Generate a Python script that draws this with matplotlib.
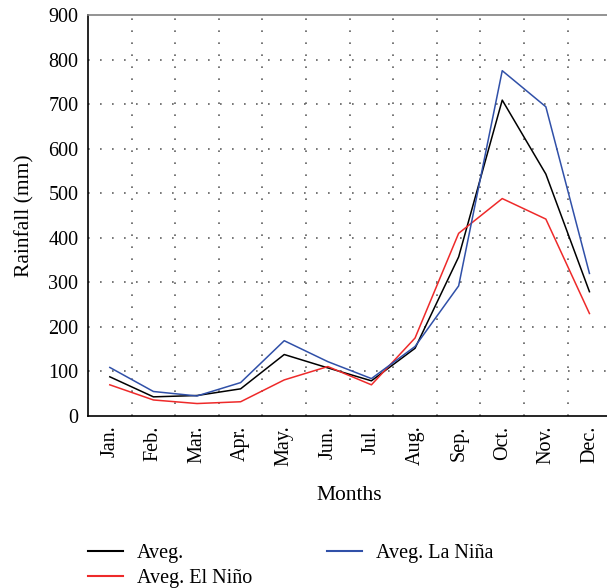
import matplotlib
matplotlib.use("Agg")
import matplotlib.pyplot as plt

plt.rcParams["font.family"] = ["Liberation Serif", "DejaVu Serif"]

months = ["Jan.", "Feb.", "Mar.", "Apr.", "May.", "Jun.", "Jul.",
          "Aug.", "Sep.", "Oct.", "Nov.", "Dec."]
aveg = [88, 43, 46, 61, 138, 108, 79, 152, 357, 709, 543, 279]
el_nino = [70, 36, 28, 32, 81, 111, 70, 175, 410, 488, 442, 230]
la_nina = [109, 55, 45, 75, 169, 122, 84, 156, 292, 775, 694, 320]


def main():
    fig = plt.figure(figsize=(6.07, 5.88), dpi=100)
    ax = fig.add_axes([0.145, 0.2925, 0.862, 0.682])

    x = list(range(len(months)))
    ax.plot(x, aveg, color="black", lw=1.1, label="Aveg.")
    ax.plot(x, el_nino, color="#ee2a2a", lw=1.1, label="Aveg. El Niño")
    ax.plot(x, la_nina, color="#3050a8", lw=1.1, label="Aveg. La Niña")

    ax.set_xlim(-0.5, 11.5)
    ax.set_ylim(0, 900)
    ax.set_xticks(x)
    ax.set_xticklabels(months, rotation=90, fontsize=14.5)
    ax.set_yticks(range(0, 1000, 100))
    ax.tick_params(axis="y", labelsize=14.5)
    ax.tick_params(length=0, pad=7)

    # dotted grid: horizontal at values, vertical between months
    for v in range(100, 900, 100):
        ax.axhline(v, color="#606060", lw=1.2, ls=(0, (1, 6.2)), zorder=0)
    for v in [i + 0.5 for i in range(11)]:
        ax.axvline(v, color="#606060", lw=1.2, ls=(0, (1, 6.2)), zorder=0)

    for side in ["left", "bottom"]:
        ax.spines[side].set_color("black")
        ax.spines[side].set_linewidth(1.2)
    ax.spines["top"].set_color("#808080")
    ax.spines["top"].set_linewidth(1.2)
    ax.spines["right"].set_visible(False)

    ax.set_ylabel("Rainfall (mm)", fontsize=15.5, labelpad=10)
    ax.set_xlabel("Months", fontsize=15.5, labelpad=14)

    leg = fig.legend(
        loc="upper left",
        bbox_to_anchor=(0.115, 0.105),
        ncol=2,
        frameon=False,
        fontsize=14.5,
        handlelength=1.75,
        handletextpad=0.7,
        columnspacing=3.7,
        labelspacing=0.25,
    )
    for h in leg.legend_handles:
        h.set_linewidth(1.5)

    fig.savefig("out.png", dpi=100)
    plt.close(fig)


if __name__ == "__main__":
    main()
